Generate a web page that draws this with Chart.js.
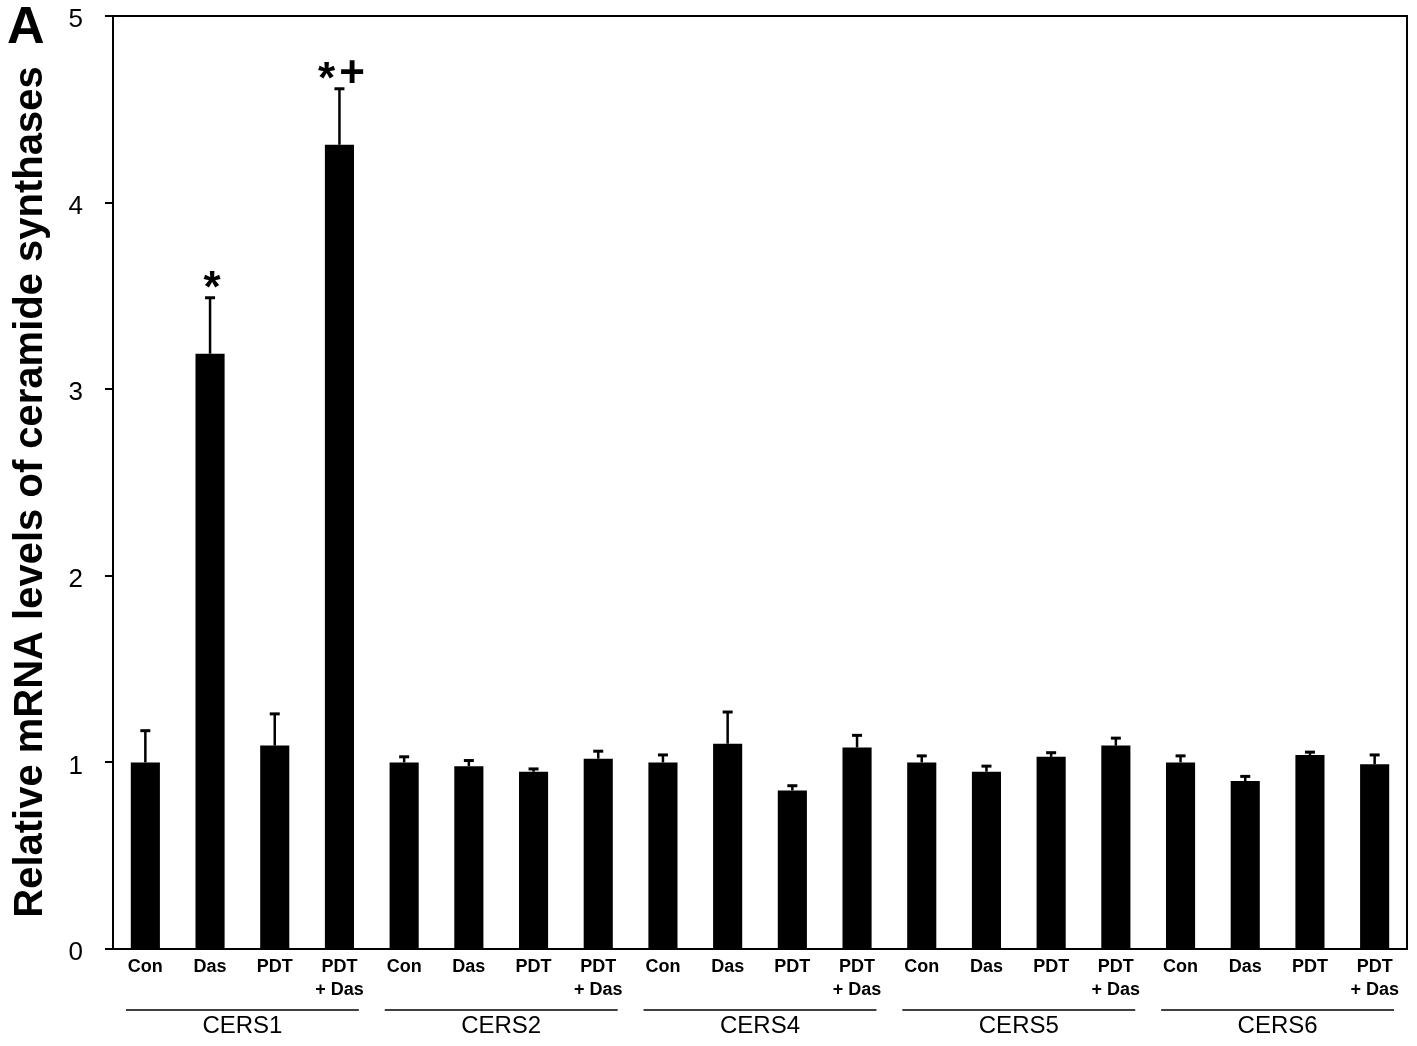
<!DOCTYPE html>
<html>
<head>
<meta charset="utf-8">
<script src="https://cdn.jsdelivr.net/npm/chart.js@4.4.1/dist/chart.umd.min.js"></script>
<style>
  html, body { margin: 0; padding: 0; background: #fff; }
  #wrap { width: 1417px; height: 1046px; position: relative; }
</style>
</head>
<body>
<div id="wrap"><canvas id="c" width="1417" height="1046"></canvas></div>
<script>
// ---- data ----
const panelLabel = "A";
const yAxisTitle = "Relative mRNA levels of ceramide synthases";
const groups = ["CERS1", "CERS2", "CERS4", "CERS5", "CERS6"];
const treatments = ["Con", "Das", "PDT", ["PDT", "+ Das"]];
const means = [1.00, 3.19, 1.09, 4.31,
               1.00, 0.98, 0.95, 1.02,
               1.00, 1.10, 0.85, 1.08,
               1.00, 0.95, 1.03, 1.09,
               1.00, 0.90, 1.04, 0.99];
const errors = [0.17, 0.30, 0.17, 0.30,
                0.03, 0.03, 0.015, 0.04,
                0.04, 0.17, 0.025, 0.065,
                0.035, 0.03, 0.022, 0.04,
                0.035, 0.025, 0.015, 0.05];
const significance = ["", "*", "", "*+",
                      "", "", "", "",
                      "", "", "", "",
                      "", "", "", "",
                      "", "", "", ""];
const yTicks = [0, 1, 2, 3, 4, 5];

// ---- build labels ----
const labels = [];
groups.forEach(g => treatments.forEach(t => labels.push(t)));

const FONT = "'Liberation Sans', Arial, Helvetica, sans-serif";

const decorPlugin = {
  id: 'decor',
  afterDatasetsDraw(chart) {
    const ctx = chart.ctx;
    const meta = chart.getDatasetMeta(0);
    const y = chart.scales.y;
    ctx.save();
    ctx.strokeStyle = '#000';
    ctx.fillStyle = '#000';
    meta.data.forEach((bar, i) => {
      const cx = bar.x;
      const yb = y.getPixelForValue(means[i]);
      const yt = y.getPixelForValue(means[i] + errors[i]);
      ctx.lineWidth = 2.5;
      ctx.beginPath();
      ctx.moveTo(cx, yb);
      ctx.lineTo(cx, yt);
      ctx.stroke();
      ctx.lineWidth = 3;
      ctx.beginPath();
      ctx.moveTo(cx - 5, yt);
      ctx.lineTo(cx + 5, yt);
      ctx.stroke();
      const s = significance[i];
      if (s) {
        ctx.font = "bold 44px " + FONT;
        ctx.textAlign = 'left';
        ctx.textBaseline = 'alphabetic';
        const gap = 4;
        const chars = s.split('');
        const widths = chars.map(c => ctx.measureText(c).width);
        const total = widths.reduce((a, b) => a + b, 0) + gap * (chars.length - 1);
        let xx = cx - total / 2 + 2;
        chars.forEach((c, k) => {
          const base = c === '*' ? yt + 4 : yt - 2;
          ctx.fillText(c, xx, base);
          xx += widths[k] + gap;
        });
      }
    });
    ctx.restore();
  },
  afterDraw(chart) {
    const ctx = chart.ctx;
    const a = chart.chartArea;
    const x = chart.scales.x;
    ctx.save();
    // frame top & right
    ctx.strokeStyle = '#000';
    ctx.lineWidth = 2;
    ctx.beginPath();
    ctx.moveTo(a.left, a.top);
    ctx.lineTo(a.right, a.top);
    ctx.lineTo(a.right, a.bottom);
    ctx.stroke();
    // group lines and labels
    const step = x.getPixelForValue(1) - x.getPixelForValue(0);
    ctx.lineWidth = 1.6;
    ctx.fillStyle = '#000';
    ctx.font = "24px " + FONT;
    ctx.textAlign = 'center';
    ctx.textBaseline = 'middle';
    groups.forEach((g, gi) => {
      const i0 = gi * treatments.length;
      const i1 = i0 + treatments.length - 1;
      const x0 = x.getPixelForValue(i0) - 0.3 * step;
      const x1 = x.getPixelForValue(i1) + 0.3 * step;
      ctx.beginPath();
      ctx.moveTo(x0, 1010);
      ctx.lineTo(x1, 1010);
      ctx.stroke();
      ctx.fillText(g, (x0 + x1) / 2, 1026);
    });
    // y axis title
    ctx.save();
    ctx.translate(31, 492);
    ctx.rotate(-Math.PI / 2);
    ctx.font = "bold 40px " + FONT;
    ctx.textAlign = 'center';
    ctx.textBaseline = 'middle';
    ctx.fillText(yAxisTitle, 0, 0);
    ctx.restore();
    // panel label
    ctx.font = "bold 52px " + FONT;
    ctx.textAlign = 'left';
    ctx.textBaseline = 'alphabetic';
    ctx.fillText(panelLabel, 7, 43);
    ctx.restore();
  }
};

new Chart(document.getElementById('c'), {
  type: 'bar',
  data: {
    labels: labels,
    datasets: [{
      data: means,
      backgroundColor: '#000',
      borderWidth: 0,
      barPercentage: 0.45,
      categoryPercentage: 1.0
    }]
  },
  options: {
    responsive: false,
    animation: false,
    devicePixelRatio: 1,
    layout: { padding: { top: 16, right: 10, left: 0, bottom: 0 } },
    plugins: { legend: { display: false }, tooltip: { enabled: false } },
    scales: {
      x: {
        grid: { display: false, drawTicks: false },
        border: { display: true, color: '#000', width: 2 },
        ticks: {
          autoSkip: false, maxRotation: 0, minRotation: 0,
          color: '#000', padding: 6,
          font: { family: FONT, size: 18, weight: 'bold', lineHeight: 1.3 }
        },
        afterFit(scale) { scale.height = 97; scale.paddingLeft = 0; scale.paddingRight = 0; }
      },
      y: {
        min: 0, max: 5,
        afterBuildTicks(scale) { scale.ticks = yTicks.map(v => ({ value: v })); },
        grid: { display: true, drawOnChartArea: false, drawTicks: true, tickLength: 8, color: '#000', lineWidth: 2 },
        border: { display: true, color: '#000', width: 2 },
        ticks: {
          color: '#000', padding: 22, labelOffset: 4,
          font: { family: FONT, size: 26 }
        },
        afterFit(scale) { scale.width = 113; scale.paddingTop = 0; scale.paddingBottom = 0; }
      }
    }
  },
  plugins: [decorPlugin]
});
</script>
</body>
</html>
